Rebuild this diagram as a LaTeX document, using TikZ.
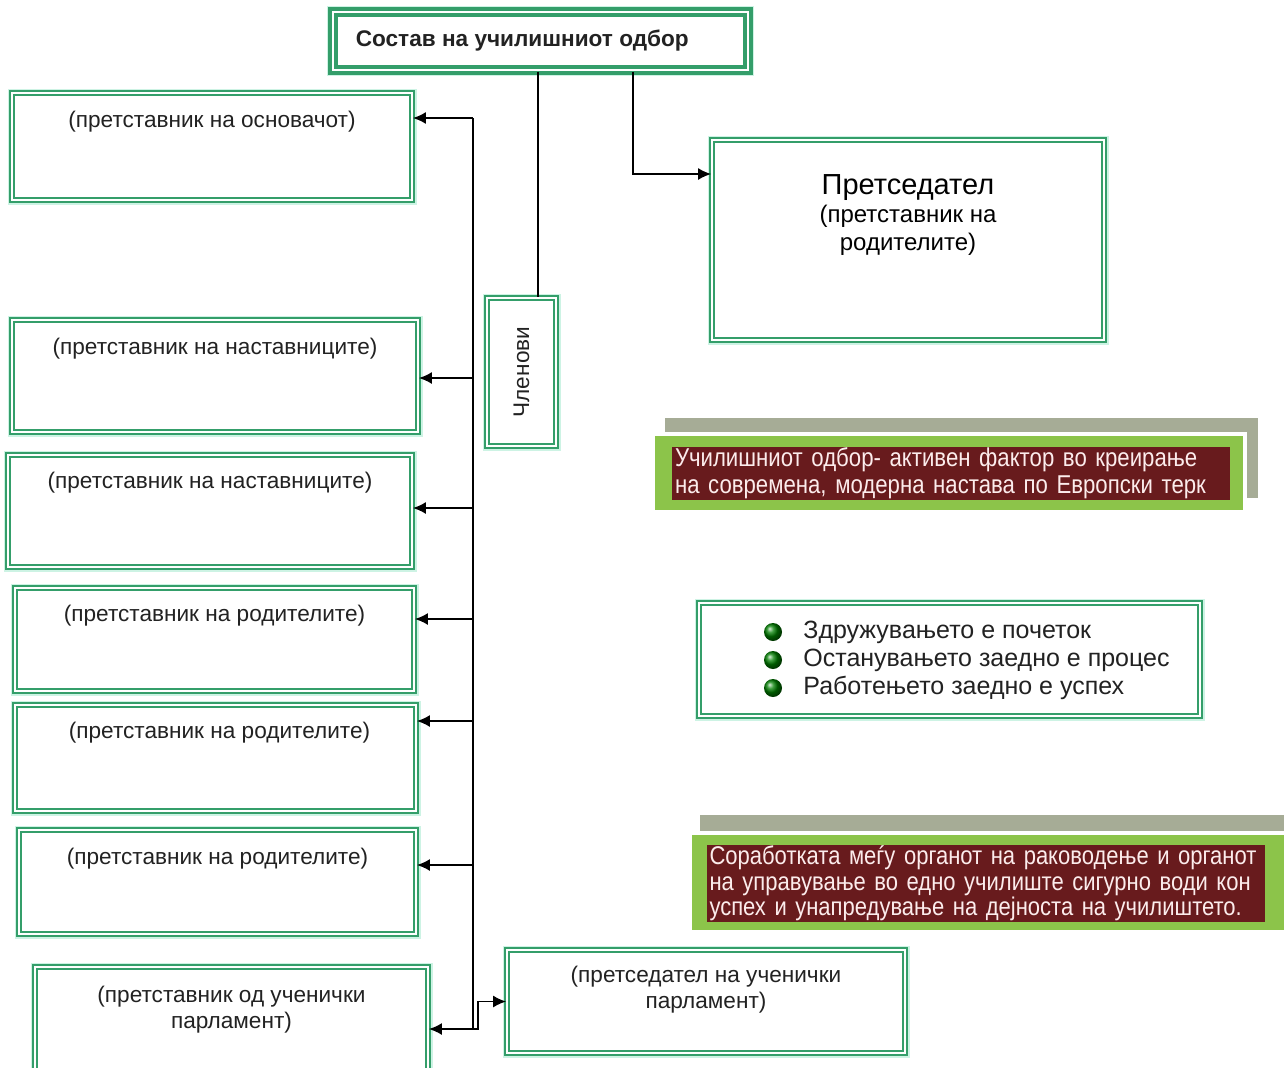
\documentclass[tikz,border=0pt]{standalone}
\usepackage{fontspec}
\setmainfont{Liberation Sans}
\newfontfamily\narrowsf[FakeStretch=0.86]{Liberation Sans}
\usepackage{xcolor}
\usepackage{tikz}
\usetikzlibrary{arrows.meta}
\definecolor{boxgreen}{RGB}{52,158,106}
\definecolor{glowmint}{RGB}{205,243,228}
\definecolor{bannergreen}{RGB}{140,196,74}
\definecolor{bannergray}{RGB}{166,172,150}
\definecolor{banred}{RGB}{104,27,29}
\definecolor{bantext}{RGB}{252,236,236}
\definecolor{txtgray}{RGB}{34,34,34}
\tikzset{
  mbox/.style={rectangle,draw=boxgreen,line width=0.9pt,double=white,double distance=1pt,
               preaction={draw=glowmint,line width=4.5pt},fill=white,inner sep=0pt},
  headbox/.style={mbox,line width=1.6pt,double distance=1.4pt,
                  preaction={draw=glowmint,line width=6pt}},
  lbl/.style={font=\fontsize{11.3}{13}\selectfont,text=txtgray,inner sep=0pt,align=center},
  bigl/.style={lbl,font=\fontsize{14.5}{17}\selectfont,text=black},
  headtxt/.style={font=\bfseries\fontsize{11.3}{13}\selectfont,text=txtgray,inner sep=0pt},
  motto/.style={font=\fontsize{12.5}{14}\selectfont,text=txtgray,inner sep=0pt,anchor=west},
  bulb/.style={circle,minimum size=9pt,inner sep=0pt,shading=ball,ball color=green!50!black},
  banner/.style={fill=banred,text=bantext,align=left,inner xsep=1.5pt,inner ysep=0pt},
  wire/.style={line width=0.8pt,black},
  arr/.style={wire,-{Latex[length=6.5pt,width=6pt]}},
}
\begin{document}
\begin{tikzpicture}[x=0.5pt,y=-0.5pt]
  \useasboundingbox (0,0) rectangle (1284,1067);
  \clip (0,0) rectangle (1284,1067);

  % banners
  \fill[bannergray] (665,418) rectangle (1258,498);
  \fill[white] (651,432) rectangle (1247,514);
  \fill[bannergreen] (655,436) rectangle (1243,510);
  \node[banner,text width=276pt,minimum height=26.5pt,
        font=\narrowsf\fontsize{12.9}{13.5}\selectfont] (msg1) at (951,473.5)
    {Училишниот одбор- активен фактор во креирање\\на современа, модерна настава по Европски терк};

  \fill[bannergray] (700,815) rectangle (1284,900);
  \fill[white] (688,831) rectangle (1284,934);
  \fill[bannergreen] (692,835) rectangle (1284,930);
  \node[banner,text width=276pt,minimum height=38.5pt,
        font=\narrowsf\fontsize{12.8}{12.75}\selectfont] (msg2) at (985.5,883.5)
    {Соработката меѓу органот на раководење и органот\\на управување во едно училиште сигурно води кон\\успех и унапредување на дејноста на училиштето.};

  % boxes
  \node[headbox,minimum width=207.5pt,minimum height=29pt] (head) at (540.5,41) {};
  \node[headtxt,anchor=west] (headlbl) at ([xshift=12pt]head.west) {Состав на училишниот одбор};

  \node[mbox,minimum width=34.5pt,minimum height=74pt] (clen) at (521.5,372) {};
  \node[lbl,rotate=90] (clenlbl) at (clen) {Членови};

  \node[mbox,minimum width=196pt,minimum height=100pt] (pres) at (908,240) {};
  \node[bigl] (preslbl) at ([yshift=-24pt]pres.north) {Претседател};
  \node[lbl,font=\fontsize{12}{14}\selectfont,text=black] (presrep) at ([yshift=-45.5pt]pres.north)
    {(претставник на\\родителите)};

  \node[mbox,minimum width=200pt,minimum height=53.5pt] (b1) at (212,146.5) {};
  \node[lbl] (b1lbl) at ([yshift=-15pt]b1.north) {(претставник на основачот)};
  \node[mbox,minimum width=203pt,minimum height=56pt] (b2) at (215,376) {};
  \node[lbl] (b2lbl) at ([yshift=-15pt]b2.north) {(претставник на наставниците)};
  \node[mbox,minimum width=202pt,minimum height=56pt] (b3) at (210,511) {};
  \node[lbl] (b3lbl) at ([yshift=-14.5pt]b3.north) {(претставник на наставниците)};
  \node[mbox,minimum width=199.5pt,minimum height=51.5pt] (b4) at (214.5,639.5) {};
  \node[lbl] (b4lbl) at ([yshift=-14.5pt]b4.north) {(претставник на родителите)};
  \node[mbox,minimum width=200.5pt,minimum height=53pt] (b5) at (215.5,758) {};
  \node[lbl] (b5lbl) at ([xshift=2pt,yshift=-14.5pt]b5.north) {(претставник на родителите)};
  \node[mbox,minimum width=198.5pt,minimum height=52pt] (b6) at (217.5,882) {};
  \node[lbl] (b6lbl) at ([yshift=-15pt]b6.north) {(претставник на родителите)};
  \node[mbox,minimum width=196.5pt,minimum height=54pt] (b7) at (231.5,1021) {};
  \node[lbl] (b7lbl) at ([yshift=-22pt]b7.north)
    {(претставник од ученички\\парламент)};
  \node[mbox,minimum width=199pt,minimum height=51.5pt] (parl) at (706,1001.5) {};
  \node[lbl] (parllbl) at ([yshift=-20.5pt]parl.north)
    {(претседател на ученички\\парламент)};

  \node[mbox,minimum width=250.5pt,minimum height=56.5pt] (mottobox) at (949.5,659.5) {};
  \node[bulb] (d1) at (773,632) {};
  \node[bulb] (d2) at (773,660) {};
  \node[bulb] (d3) at (773,688) {};
  \node[motto] (m1) at (803,632) {Здружувањето е почеток};
  \node[motto] (m2) at (803,660) {Останувањето заедно е процес};
  \node[motto] (m3) at (803,688) {Работењето заедно е успех};

  % connectors
  \draw[wire] ([xshift=8.25pt]clen.north |- head.south) -- ([xshift=8.25pt]clen.north);
  \draw[arr] ([xshift=46.25pt]head.south) |- ([yshift=33pt]pres.west);

  \coordinate (j1) at (473,118);
  \coordinate (j2) at (473,378);
  \coordinate (j3) at (473,508);
  \coordinate (j4) at (473,619);
  \coordinate (j5) at (473,721);
  \coordinate (j6) at (473,865);
  \coordinate (j7) at (473,1029);
  \draw[wire] (j1) -- (j7);
  \foreach \j/\b in {j1/b1,j2/b2,j3/b3,j4/b4,j5/b5,j6/b6,j7/b7}
    \draw[arr] (\j) -- (\j -| \b.east);
  \draw[arr] (j7) -- ++(5,0) |- (parl.west);
\end{tikzpicture}
\end{document}
